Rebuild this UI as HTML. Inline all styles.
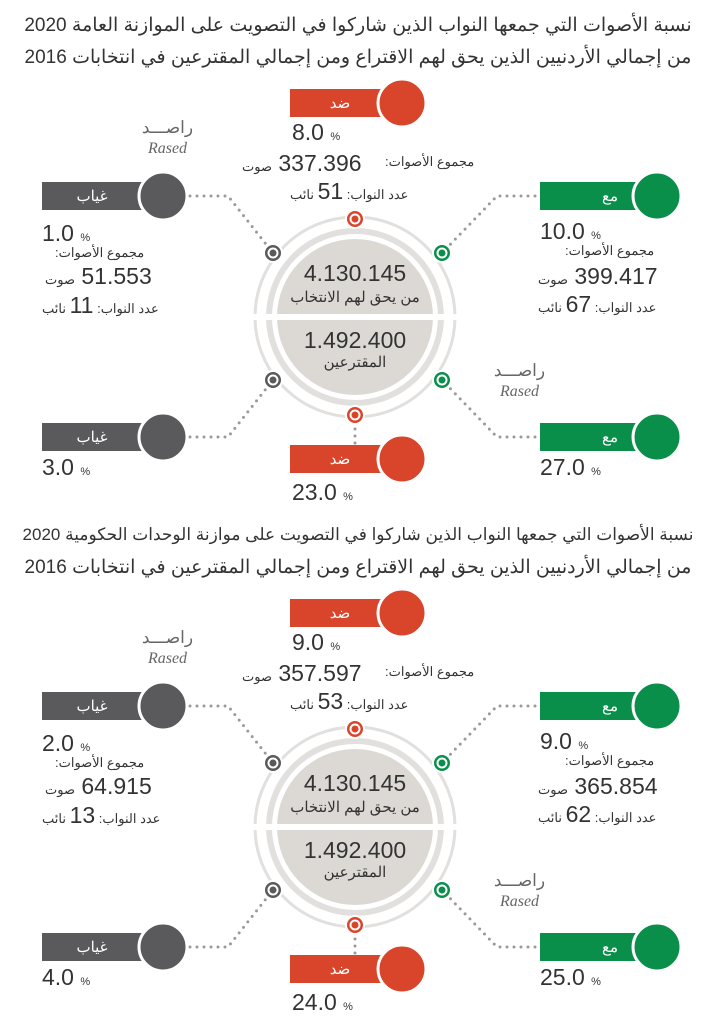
<!DOCTYPE html>
<html><head><meta charset="utf-8">
<style>
body{margin:0;background:#fff;}
#pg{position:relative;width:716px;height:1024px;overflow:hidden;background:#fff;font-family:"Liberation Sans","Noto Sans CJK SC",sans-serif;color:#333;}
.sec{position:absolute;left:0;width:716px;height:512px;}
.sec svg{position:absolute;left:0;top:0;}
.t{position:absolute;white-space:nowrap;line-height:1;}
.title{position:absolute;left:0;width:716px;text-align:center;font-size:19px;color:#333;direction:rtl;white-space:nowrap;font-family:"Liberation Sans","Noto Sans CJK SC",sans-serif;}
.num{font-size:23px;color:#333;}
.pc{font-size:11px;}
.ar{font-size:13px;direction:rtl;}
.iso{display:inline-block;unicode-bidi:isolate;}
.lab{position:absolute;color:#fff;font-size:15px;text-align:center;}
.rased{position:absolute;color:#666;text-align:center;}
.rased .a{font-size:17px;letter-spacing:1px;}
.rased .b{font-family:"Liberation Serif",serif;font-style:italic;font-size:16px;margin-top:2px;}
</style></head><body><div id="pg">

<!-- SECTION 1 -->
<div class="sec" style="top:0">
<svg width="716" height="512">
 <g fill="none" stroke="#9a9a9a" stroke-width="3" stroke-linecap="round" stroke-dasharray="0 7">
  <path d="M190 196 L228 196 L273 253"/>
  <path d="M190 437 L228 437 L273 380"/>
  <path d="M535 196 L497 196 L442 253"/>
  <path d="M535 437 L497 437 L442 380"/>
  <path d="M355 422 L355 446"/>
 </g>
 <circle cx="355" cy="317" r="100" fill="none" stroke="#e2e0de" stroke-width="3"/>
 <circle cx="355" cy="317" r="86" fill="none" stroke="#e2e0de" stroke-width="6"/>
 <circle cx="355" cy="317" r="78" fill="#dcd9d5"/>
 <rect x="250" y="314" width="210" height="6" fill="#fff"/>
 <g stroke="#fff" stroke-width="2">
  <circle cx="355" cy="219" r="9" fill="#d9452b"/><circle cx="355" cy="219" r="4.5" fill="#d9452b" stroke="#fff" stroke-width="2"/>
  <circle cx="355" cy="415" r="9" fill="#d9452b"/><circle cx="355" cy="415" r="4.5" fill="#d9452b" stroke="#fff" stroke-width="2"/>
  <circle cx="273" cy="253" r="9" fill="#5a5a5c"/><circle cx="273" cy="253" r="4.5" fill="#5a5a5c" stroke="#fff" stroke-width="2"/>
  <circle cx="273" cy="380" r="9" fill="#5a5a5c"/><circle cx="273" cy="380" r="4.5" fill="#5a5a5c" stroke="#fff" stroke-width="2"/>
  <circle cx="442" cy="253" r="9" fill="#0a8f4a"/><circle cx="442" cy="253" r="4.5" fill="#0a8f4a" stroke="#fff" stroke-width="2"/>
  <circle cx="442" cy="380" r="9" fill="#0a8f4a"/><circle cx="442" cy="380" r="4.5" fill="#0a8f4a" stroke="#fff" stroke-width="2"/>
 </g>
 <rect x="290" y="89" width="115" height="28" fill="#d9452b"/><circle cx="402" cy="103" r="24" fill="#d9452b" stroke="#fff" stroke-width="3"/>
 <rect x="42" y="182" width="120" height="28" fill="#5a5a5c"/><circle cx="163" cy="196" r="24" fill="#5a5a5c" stroke="#fff" stroke-width="3"/>
 <rect x="540" y="182" width="115" height="28" fill="#0a8f4a"/><circle cx="657" cy="196" r="24" fill="#0a8f4a" stroke="#fff" stroke-width="3"/>
 <rect x="42" y="423" width="120" height="28" fill="#5a5a5c"/><circle cx="163" cy="437" r="24" fill="#5a5a5c" stroke="#fff" stroke-width="3"/>
 <rect x="290" y="445" width="115" height="28" fill="#d9452b"/><circle cx="402" cy="459" r="24" fill="#d9452b" stroke="#fff" stroke-width="3"/>
 <rect x="540" y="423" width="115" height="28" fill="#0a8f4a"/><circle cx="657" cy="437" r="24" fill="#0a8f4a" stroke="#fff" stroke-width="3"/>
 <line x1="18" y1="515" x2="698" y2="515" stroke="#555" stroke-width="2"/>
</svg>
<div class="title" style="top:14px">نسبة الأصوات التي جمعها النواب الذين شاركوا في التصويت على الموازنة العامة 2020</div>
<div class="title" style="top:46px">من إجمالي الأردنيين الذين يحق لهم الاقتراع ومن إجمالي المقترعين في انتخابات 2016</div>
<div class="lab" style="left:290px;top:94px;width:100px">ضد</div>
<div class="lab" style="left:42px;top:187px;width:100px">غياب</div>
<div class="lab" style="left:560px;top:187px;width:100px">مع</div>
<div class="lab" style="left:42px;top:428px;width:100px">غياب</div>
<div class="lab" style="left:290px;top:450px;width:100px">ضد</div>
<div class="lab" style="left:560px;top:428px;width:100px">مع</div>
<div class="rased" style="left:130px;top:118px;width:75px"><div class="a">راصـــد</div><div class="b">Rased</div></div>
<div class="rased" style="left:482px;top:361px;width:75px"><div class="a">راصـــد</div><div class="b">Rased</div></div>
<div class="t num" style="left:292px;top:121px">8.0 <span class="pc">%</span></div>
<div class="t ar" style="left:385px;top:155px">مجموع الأصوات:</div>
<div class="t num" style="left:242px;top:152px"><span class="ar iso">صوت</span> 337.396</div>
<div class="t ar" style="left:290px;top:180px">عدد النواب: <span class="num">51</span> نائب</div>
<div class="t num" style="left:42px;top:222px">1.0 <span class="pc">%</span></div>
<div class="t ar" style="left:55px;top:246px">مجموع الأصوات:</div>
<div class="t num" style="left:45px;top:265px"><span class="ar iso">صوت</span> 51.553</div>
<div class="t ar" style="left:42px;top:294px">عدد النواب: <span class="num">11</span> نائب</div>
<div class="t num" style="left:540px;top:220px">10.0 <span class="pc">%</span></div>
<div class="t ar" style="left:565px;top:244px">مجموع الأصوات:</div>
<div class="t num" style="left:538px;top:265px"><span class="ar iso">صوت</span> 399.417</div>
<div class="t ar" style="left:538px;top:293px">عدد النواب: <span class="num">67</span> نائب</div>
<div class="t num" style="left:0;width:710px;text-align:center;top:262px">4.130.145</div>
<div class="t" style="left:0;width:710px;text-align:center;top:290px;font-size:15px;direction:rtl">من يحق لهم الانتخاب</div>
<div class="t num" style="left:0;width:710px;text-align:center;top:329px">1.492.400</div>
<div class="t" style="left:0;width:710px;text-align:center;top:355px;font-size:15px;direction:rtl">المقترعين</div>
<div class="t num" style="left:42px;top:456px">3.0 <span class="pc">%</span></div>
<div class="t num" style="left:292px;top:481px">23.0 <span class="pc">%</span></div>
<div class="t num" style="left:540px;top:456px">27.0 <span class="pc">%</span></div>
</div>

<!-- SECTION 2 -->
<div class="sec" style="top:510px">
<svg width="716" height="512">
 <g fill="none" stroke="#9a9a9a" stroke-width="3" stroke-linecap="round" stroke-dasharray="0 7">
  <path d="M190 196 L228 196 L273 253"/>
  <path d="M190 437 L228 437 L273 380"/>
  <path d="M535 196 L497 196 L442 253"/>
  <path d="M535 437 L497 437 L442 380"/>
  <path d="M355 422 L355 446"/>
 </g>
 <circle cx="355" cy="317" r="100" fill="none" stroke="#e2e0de" stroke-width="3"/>
 <circle cx="355" cy="317" r="86" fill="none" stroke="#e2e0de" stroke-width="6"/>
 <circle cx="355" cy="317" r="78" fill="#dcd9d5"/>
 <rect x="250" y="314" width="210" height="6" fill="#fff"/>
 <g stroke="#fff" stroke-width="2">
  <circle cx="355" cy="219" r="9" fill="#d9452b"/><circle cx="355" cy="219" r="4.5" fill="#d9452b" stroke="#fff" stroke-width="2"/>
  <circle cx="355" cy="415" r="9" fill="#d9452b"/><circle cx="355" cy="415" r="4.5" fill="#d9452b" stroke="#fff" stroke-width="2"/>
  <circle cx="273" cy="253" r="9" fill="#5a5a5c"/><circle cx="273" cy="253" r="4.5" fill="#5a5a5c" stroke="#fff" stroke-width="2"/>
  <circle cx="273" cy="380" r="9" fill="#5a5a5c"/><circle cx="273" cy="380" r="4.5" fill="#5a5a5c" stroke="#fff" stroke-width="2"/>
  <circle cx="442" cy="253" r="9" fill="#0a8f4a"/><circle cx="442" cy="253" r="4.5" fill="#0a8f4a" stroke="#fff" stroke-width="2"/>
  <circle cx="442" cy="380" r="9" fill="#0a8f4a"/><circle cx="442" cy="380" r="4.5" fill="#0a8f4a" stroke="#fff" stroke-width="2"/>
 </g>
 <rect x="290" y="89" width="115" height="28" fill="#d9452b"/><circle cx="402" cy="103" r="24" fill="#d9452b" stroke="#fff" stroke-width="3"/>
 <rect x="42" y="182" width="120" height="28" fill="#5a5a5c"/><circle cx="163" cy="196" r="24" fill="#5a5a5c" stroke="#fff" stroke-width="3"/>
 <rect x="540" y="182" width="115" height="28" fill="#0a8f4a"/><circle cx="657" cy="196" r="24" fill="#0a8f4a" stroke="#fff" stroke-width="3"/>
 <rect x="42" y="423" width="120" height="28" fill="#5a5a5c"/><circle cx="163" cy="437" r="24" fill="#5a5a5c" stroke="#fff" stroke-width="3"/>
 <rect x="290" y="445" width="115" height="28" fill="#d9452b"/><circle cx="402" cy="459" r="24" fill="#d9452b" stroke="#fff" stroke-width="3"/>
 <rect x="540" y="423" width="115" height="28" fill="#0a8f4a"/><circle cx="657" cy="437" r="24" fill="#0a8f4a" stroke="#fff" stroke-width="3"/>
</svg>
<div class="title" style="top:15px;font-size:17px">نسبة الأصوات التي جمعها النواب الذين شاركوا في التصويت على موازنة الوحدات الحكومية 2020</div>
<div class="title" style="top:46px">من إجمالي الأردنيين الذين يحق لهم الاقتراع ومن إجمالي المقترعين في انتخابات 2016</div>
<div class="lab" style="left:290px;top:94px;width:100px">ضد</div>
<div class="lab" style="left:42px;top:187px;width:100px">غياب</div>
<div class="lab" style="left:560px;top:187px;width:100px">مع</div>
<div class="lab" style="left:42px;top:428px;width:100px">غياب</div>
<div class="lab" style="left:290px;top:450px;width:100px">ضد</div>
<div class="lab" style="left:560px;top:428px;width:100px">مع</div>
<div class="rased" style="left:130px;top:118px;width:75px"><div class="a">راصـــد</div><div class="b">Rased</div></div>
<div class="rased" style="left:482px;top:361px;width:75px"><div class="a">راصـــد</div><div class="b">Rased</div></div>
<div class="t num" style="left:292px;top:121px">9.0 <span class="pc">%</span></div>
<div class="t ar" style="left:385px;top:155px">مجموع الأصوات:</div>
<div class="t num" style="left:242px;top:152px"><span class="ar iso">صوت</span> 357.597</div>
<div class="t ar" style="left:290px;top:180px">عدد النواب: <span class="num">53</span> نائب</div>
<div class="t num" style="left:42px;top:222px">2.0 <span class="pc">%</span></div>
<div class="t ar" style="left:55px;top:246px">مجموع الأصوات:</div>
<div class="t num" style="left:45px;top:265px"><span class="ar iso">صوت</span> 64.915</div>
<div class="t ar" style="left:42px;top:294px">عدد النواب: <span class="num">13</span> نائب</div>
<div class="t num" style="left:540px;top:220px">9.0 <span class="pc">%</span></div>
<div class="t ar" style="left:565px;top:244px">مجموع الأصوات:</div>
<div class="t num" style="left:538px;top:265px"><span class="ar iso">صوت</span> 365.854</div>
<div class="t ar" style="left:538px;top:293px">عدد النواب: <span class="num">62</span> نائب</div>
<div class="t num" style="left:0;width:710px;text-align:center;top:262px">4.130.145</div>
<div class="t" style="left:0;width:710px;text-align:center;top:290px;font-size:15px;direction:rtl">من يحق لهم الانتخاب</div>
<div class="t num" style="left:0;width:710px;text-align:center;top:329px">1.492.400</div>
<div class="t" style="left:0;width:710px;text-align:center;top:355px;font-size:15px;direction:rtl">المقترعين</div>
<div class="t num" style="left:42px;top:456px">4.0 <span class="pc">%</span></div>
<div class="t num" style="left:292px;top:481px">24.0 <span class="pc">%</span></div>
<div class="t num" style="left:540px;top:456px">25.0 <span class="pc">%</span></div>
</div>

</div></body></html>
